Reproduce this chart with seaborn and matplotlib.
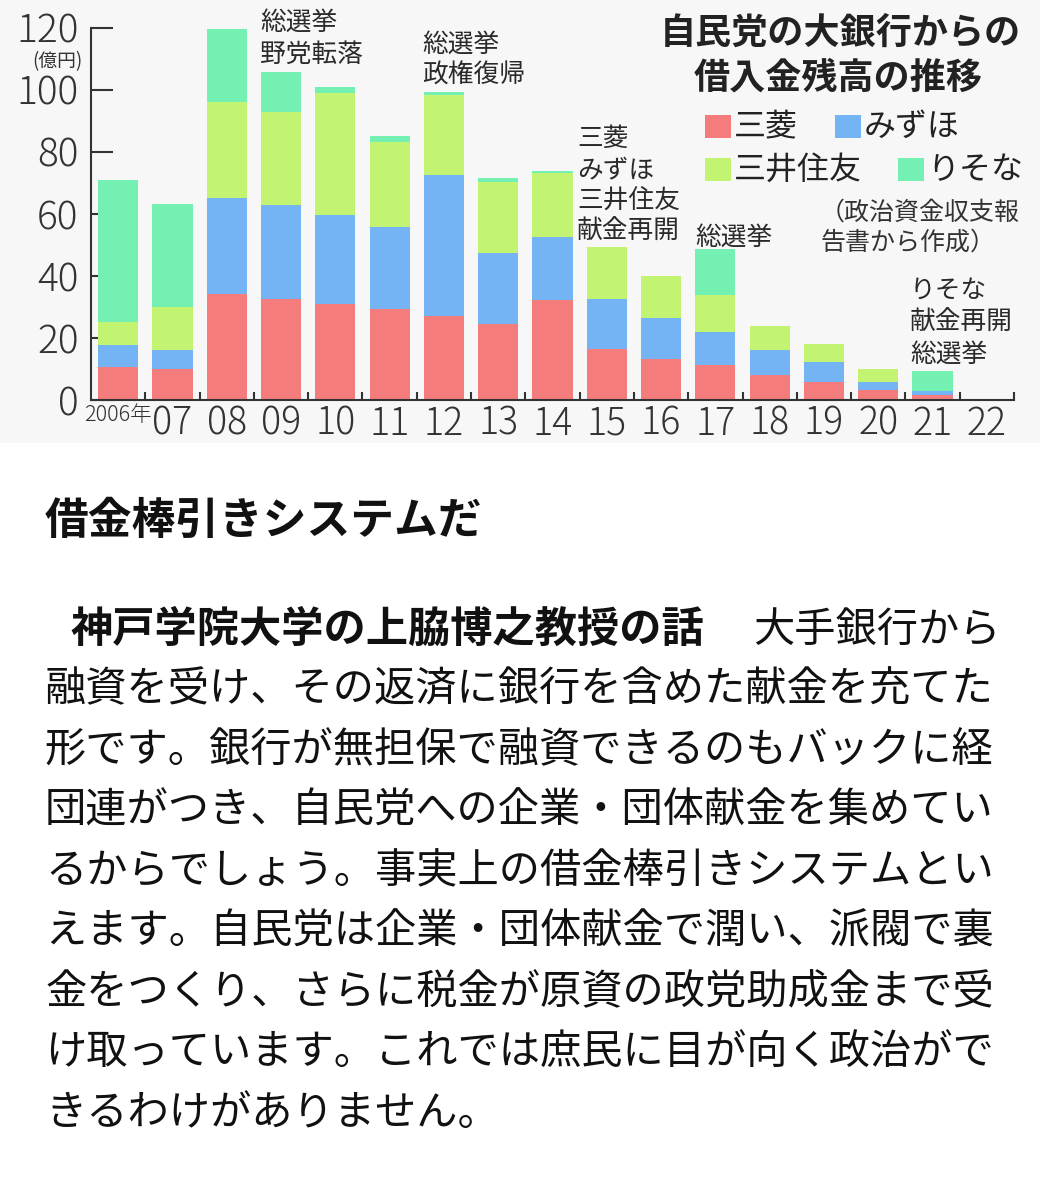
import numpy as np
import pandas as pd
import matplotlib
matplotlib.use("Agg")
import matplotlib.pyplot as plt
from matplotlib.patches import Rectangle
from matplotlib.ticker import FixedLocator
import seaborn as sns

sns.set_style("ticks")
plt.rcParams['font.family'] = ['Noto Sans CJK JP', 'DejaVu Sans']

# 借入金残高 (億円)
years = ["2006年", "07", "08", "09", "10", "11", "12", "13", "14",
         "15", "16", "17", "18", "19", "20", "21", "22"]
mitsubishi = [10.6, 10.1, 34.3, 32.6, 31.0, 29.4, 26.9, 24.6, 32.1,
              16.5, 13.3, 11.3, 7.9, 5.7, 3.1, 1.5, 0]
mizuho = [7.0, 6.1, 30.9, 30.1, 28.5, 26.3, 45.5, 22.8, 20.4,
          15.9, 13.2, 10.6, 8.1, 6.5, 2.8, 1.5, 0]
sumitomo = [7.5, 13.7, 30.9, 30.1, 39.3, 27.5, 25.8, 22.9, 20.5,
            16.9, 13.5, 11.8, 7.7, 5.9, 4.0, 0, 0]
resona = [45.9, 33.2, 23.3, 12.9, 2.1, 1.8, 1.1, 1.1, 0.8,
          0, 0, 14.8, 0, 0, 0, 6.3, 0]

banks = ["三菱", "みずほ", "三井住友", "りそな"]
colors = ["#F47C7C", "#74B4F4", "#C2F472", "#74F0B2"]

df = pd.DataFrame({"year": years, "三菱": mitsubishi, "みずほ": mizuho,
                   "三井住友": sumitomo, "りそな": resona})
cum = df[banks].cumsum(axis=1)

W, H = 1040, 1200
fig = plt.figure(figsize=(W / 100, H / 100), dpi=100)


def fx(px):
    return px / W


def fy(py):
    return 1 - py / H


# light grey backdrop behind the chart image
fig.patches.append(Rectangle((0, fy(443)), 1, 443 / H, transform=fig.transFigure,
                             facecolor="#F7F7F7", edgecolor="none", zorder=-5))

ax = fig.add_axes([fx(91), fy(400), 923 / W, 372.5 / H])
ax.set_facecolor("none")

# stacked bars: draw cumulative totals from the top segment down
for bank, col in reversed(list(zip(banks, colors))):
    sns.barplot(x=df["year"], y=cum[bank], color=col, width=0.74,
                saturation=1, errorbar=None, ax=ax, zorder=2,
                linewidth=0, edgecolor="none")

ax.set_xlim(-0.5, 16.5)
ax.set_ylim(0, 120)
ax.set_xlabel("")
ax.set_ylabel("")
sns.despine(ax=ax)
for side in ["left", "bottom"]:
    ax.spines[side].set_color("#333333")
    ax.spines[side].set_linewidth(1.5)

ax.set_yticks(range(0, 121, 20))
ax.tick_params(axis="y", direction="in", length=16, width=1.5, pad=9,
               labelsize=28, color="#333333", labelcolor="#333333")
for lab in ax.get_yticklabels():
    lab.set_fontweight("light")

ax.set_xticks(range(len(years)))
ax.set_xticklabels(years)
ax.xaxis.set_minor_locator(FixedLocator(np.arange(0.5, 17, 1.0)))
ax.tick_params(axis="x", which="major", length=0, pad=3,
               labelsize=27, labelcolor="#333333")
ax.tick_params(axis="x", which="minor", direction="in", length=6, width=1.5,
               color="#333333")
for lab in ax.get_xticklabels():
    lab.set_fontweight("light")
ax.get_xticklabels()[0].set_fontsize(15.5)

fig.text(fx(82), fy(61.5), "(億円)", ha="right", va="center", fontsize=13.5,
         color="#333333")

# title
fig.text(fx(840), fy(33), "自民党の大銀行からの", ha="center", va="center",
         fontsize=26, fontweight="bold", color="#222222")
fig.text(fx(838), fy(78), "借入金残高の推移", ha="center", va="center",
         fontsize=26, fontweight="bold", color="#222222")

# legend
legend_pos = [(705, 127), (835, 127), (705, 170), (898, 170)]
for bank, col, (lx, ly) in zip(banks, colors, legend_pos):
    fig.patches.append(Rectangle((fx(lx), fy(ly + 11)), 26 / W, 23 / H,
                                 transform=fig.transFigure, facecolor=col,
                                 edgecolor="none"))
    fig.text(fx(lx + 29), fy(ly), bank, ha="left", va="center", fontsize=23,
             color="#222222")

fig.text(fx(820), fy(213), "（政治資金収支報", ha="left", va="center",
         fontsize=18, color="#333333")
fig.text(fx(820), fy(243), "告書から作成）", ha="left", va="center",
         fontsize=18, color="#333333")

# event notes above the bars
notes = [
    (260, [23, 55], ["総選挙", "野党転落"]),
    (422, [45, 76], ["総選挙", "政権復帰"]),
    (577, [139, 170, 201, 232], ["三菱", "みずほ", "三井住友", "献金再開"]),
    (695, [238], ["総選挙"]),
    (910, [291, 323, 355], ["りそな", "献金再開", "総選挙"]),
]
for nx, nys, lines in notes:
    for ny, line in zip(nys, lines):
        fig.text(fx(nx), fy(ny), line, ha="left", va="center", fontsize=18.5,
                 color="#2a2a2a")

# article text below the chart
fig.text(fx(45), fy(521), "借金棒引きシステムだ", ha="left", va="center",
         fontsize=31.5, fontweight="bold", color="#111111")

fig.text(fx(70), fy(630), "神戸学院大学の上脇博之教授の話", ha="left",
         va="center", fontsize=30.4, fontweight="bold", color="#111111")
fig.text(fx(753), fy(630), "大手銀行から", ha="left", va="center",
         fontsize=29.7, color="#111111")

body = [
    "融資を受け、その返済に銀行を含めた献金を充てた",
    "形です。銀行が無担保で融資できるのもバックに経",
    "団連がつき、自民党への企業・団体献金を集めてい",
    "るからでしょう。事実上の借金棒引きシステムとい",
    "えます。自民党は企業・団体献金で潤い、派閥で裏",
    "金をつくり、さらに税金が原資の政党助成金まで受",
    "け取っています。これでは庶民に目が向く政治がで",
    "きるわけがありません。",
]
line_y = [690, 751, 811, 872, 932, 993, 1053, 1114]
for txt, ly in zip(body, line_y):
    fig.text(fx(45), fy(ly), txt, ha="left", va="center", fontsize=29.7,
             color="#111111")

fig.savefig("out.png", dpi=100, facecolor="white")
